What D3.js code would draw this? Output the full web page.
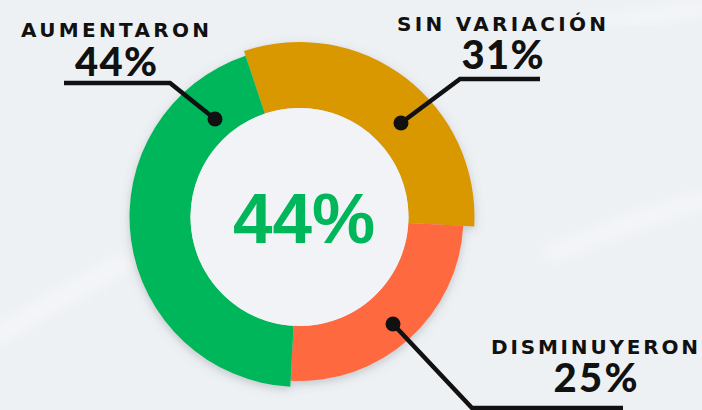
<!DOCTYPE html>
<html>
<head>
<meta charset="utf-8">
<script src="https://cdn.jsdelivr.net/npm/d3@7"></script>
<style>
  html, body { margin: 0; padding: 0; background: #eef1f4; }
  svg { display: block; }
  .lbl { font-family: "DejaVu Sans", sans-serif; font-weight: bold; fill: #111; }
  .val { font-family: Lato, "DejaVu Sans", sans-serif; font-weight: 900; fill: #111; }
  .lead { fill: none; stroke: #111; stroke-width: 4.5; stroke-linejoin: miter; }
</style>
</head>
<body>
<script>
// data
var categories = ["SIN VARIACIÓN", "DISMINUYERON", "AUMENTARON"];
var values = [31, 25, 44];
var colors = ["#d99800", "#ff6941", "#00b65a"];
var centerLabel = "44%";

var width = 702, height = 410;
var cx = 299.5, cy = 217;
var innerR = 109;
// each slice sticks out a bit differently in the original
var outerR = [175, 164, 170];

var svg = d3.select(document.body)
  .append("svg")
  .attr("width", width)
  .attr("height", height);

var defs = svg.append("defs");
var f = defs.append("filter").attr("id", "shadow")
  .attr("x", "-20%").attr("y", "-20%").attr("width", "140%").attr("height", "140%");
f.append("feDropShadow")
  .attr("dx", 0).attr("dy", 3)
  .attr("stdDeviation", 5)
  .attr("flood-color", "#5a6470")
  .attr("flood-opacity", 0.3);

var blur = defs.append("filter").attr("id", "blur");
blur.append("feGaussianBlur").attr("stdDeviation", 7);

// background with some faint light streaks
svg.append("rect").attr("width", width).attr("height", height).attr("fill", "#eef1f4");
var streaks = [
  [[-10, 330], [40, 300], [110, 260], [140, 250], [120, 275], [40, 320], [-10, 350]],
  [[540, 250], [640, 210], [710, 190], [710, 205], [640, 228], [550, 262]],
  [[560, 20], [650, 10], [710, 0], [710, 12], [650, 24]]
];
svg.append("g").selectAll("path")
  .data(streaks)
  .join("path")
  .attr("d", function (d) { return d3.line()(d) + "Z"; })
  .attr("fill", "#ffffff")
  .attr("opacity", 0.35)
  .attr("filter", "url(#blur)");

var pie = d3.pie()
  .sort(null)
  .value(function (d) { return d; })
  .startAngle(-18.5 * Math.PI / 180)
  .endAngle((360 - 18.5) * Math.PI / 180);

var arcs = pie(values);

var g = svg.append("g")
  .attr("transform", "translate(" + cx + "," + cy + ")")
  .attr("filter", "url(#shadow)");

g.selectAll("path")
  .data(arcs)
  .join("path")
  .attr("d", function (d, i) {
    return d3.arc().innerRadius(innerR).outerRadius(outerR[i])(d);
  })
  .attr("fill", function (d, i) { return colors[i]; });

// inner disc
svg.append("circle")
  .attr("cx", cx).attr("cy", cy).attr("r", innerR)
  .attr("fill", "#f1f3f6");

svg.append("text")
  .attr("x", cx + 4.5)
  .attr("y", 243)
  .attr("text-anchor", "middle")
  .attr("font-family", "'Liberation Sans', Arial, sans-serif")
  .attr("font-weight", "bold")
  .attr("font-size", 71)
  .attr("fill", "#00b65a")
  .text(centerLabel);

// callouts: dot on ring, leader path, label placement
var callouts = [
  { i: 0, dot: [401, 123], path: [[401, 123], [460, 79], [540, 79]], tx: 501.5, ty: 31, tw: 209, vy: 69, vw: 82 },
  { i: 1, dot: [393, 324], path: [[393, 324], [472, 408], [623, 408]], tx: 594.5, ty: 354, tw: 207, vy: 392, vw: 84 },
  { i: 2, dot: [215, 119], path: [[215, 119], [170, 83], [64, 83]], tx: 115, ty: 37, tw: 188, vy: 76, vw: 82 }
];

var cg = svg.append("g");
callouts.forEach(function (c) {
  cg.append("path").attr("class", "lead").attr("d", d3.line()(c.path));
  cg.append("circle").attr("cx", c.dot[0]).attr("cy", c.dot[1]).attr("r", 7.5).attr("fill", "#111");
  cg.append("text")
    .attr("class", "lbl")
    .attr("x", c.tx).attr("y", c.ty)
    .attr("text-anchor", "middle")
    .attr("font-size", 20)
    .attr("textLength", c.tw)
    .attr("lengthAdjust", "spacing")
    .text(categories[c.i]);
  cg.append("text")
    .attr("class", "val")
    .attr("x", c.tx + 1).attr("y", c.vy)
    .attr("text-anchor", "middle")
    .attr("font-size", 40)
    .attr("textLength", c.vw)
    .attr("lengthAdjust", "spacing")
    .text(values[c.i] + "%");
});
</script>
</body>
</html>
